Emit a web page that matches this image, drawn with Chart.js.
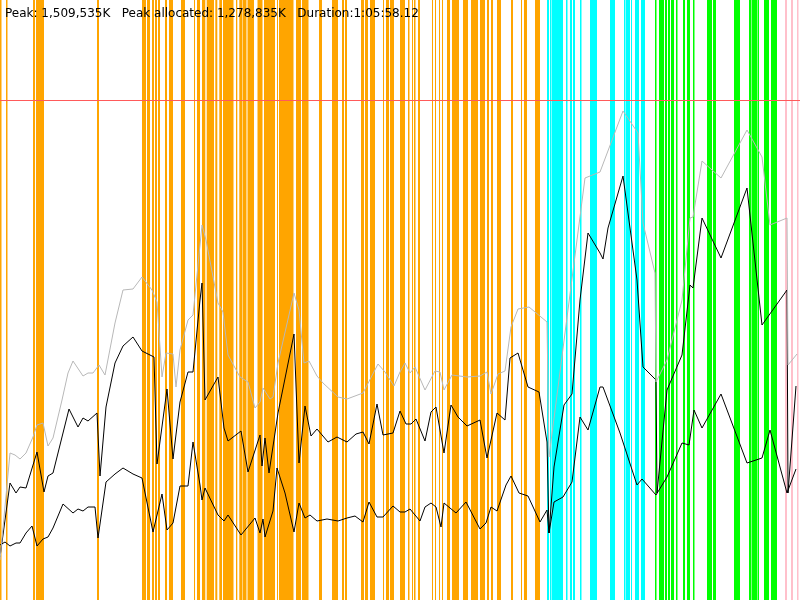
<!DOCTYPE html>
<html>
<head>
<meta charset="utf-8">
<script src="https://cdn.jsdelivr.net/npm/chart.js@4/dist/chart.umd.min.js"></script>
<style>
  html, body { margin: 0; padding: 0; background: #ffffff; }
  #wrap { width: 800px; height: 600px; }
</style>
</head>
<body>
<div id="wrap"><canvas id="c" width="800" height="600"></canvas></div>
<script>
// ---- Data (x = elapsed time units 0..800, y = memory in MB) ----
const headerLabels = ["Peak: 1,509,535K", "Peak allocated: 1,278,835K", "Duration:1:05:58.12"];
const heapLimitMB = 1500;

// committed heap (gray)
const committedX = [0,10,15,20,26,33,37,43,48,53,62,68,73,83,88,93,99,105,115,123,133,142,152,157,162,166,173,176,180,188,193,200,202,206,218,223,228,240,248,255,260,263,270,273,278,294,299,304,309,317,323,338,347,363,378,385,394,400,405,410,415,425,435,440,444,452,467,480,487,491,498,505,511,518,529,547,549,585,600,623,638,643,655,656,667,682,690,693,702,721,747,762,770,787,788,797];
const committedY = [120,441,435,423,441,489,525,531,462,486,600,681,717,672,681,681,705,675,831,930,933,969,930,894,669,741,738,639,750,840,855,1065,1125,1080,891,864,735,669,654,576,594,636,603,609,711,921,870,711,717,672,651,609,603,621,708,684,642,684,711,681,699,630,687,684,630,675,669,672,684,618,678,687,819,873,879,834,429,1266,1284,1467,1401,1131,981,654,720,900,1146,1149,1317,1266,1410,1329,1125,1146,705,738];

// used before GC (black upper)
const usedX = [0,10,16,20,26,37,44,48,53,69,78,83,88,97,100,106,115,123,133,142,154,157,167,173,180,188,193,200,202,205,218,224,228,241,248,260,262,265,269,278,294,299,305,311,317,328,337,347,356,363,369,377,383,393,400,406,411,416,425,431,436,444,451,458,467,480,487,497,505,510,518,528,539,547,549,554,564,572,580,588,600,603,608,623,637,643,656,657,667,682,690,693,702,721,747,762,787,788,796];
const usedY = [129,351,321,339,336,444,324,372,381,573,519,546,537,561,372,579,711,762,789,747,729,408,633,423,594,684,684,900,951,600,669,516,477,507,384,495,402,486,381,561,798,411,582,492,513,474,489,474,498,504,468,588,495,501,567,528,528,543,477,564,579,441,585,549,522,540,426,561,540,726,741,639,624,474,201,399,585,618,900,1101,1041,1023,1116,1272,960,699,660,321,630,735,945,936,1146,1026,1236,825,930,321,642];

// live after GC (black lower)
const liveX = [0,5,10,16,20,26,32,37,43,48,53,63,73,78,83,88,95,98,106,115,123,133,142,153,162,167,173,180,188,193,200,202,205,218,224,228,241,255,260,263,265,273,277,285,294,299,305,310,317,327,338,347,355,363,369,377,383,393,400,405,410,420,425,431,436,441,444,456,466,480,486,491,497,506,511,519,528,540,547,549,554,563,572,580,588,600,603,620,637,642,656,667,682,689,694,702,721,747,762,770,787,796];
const liveY = [165,174,162,171,171,201,222,162,183,189,216,288,261,273,267,279,279,186,354,378,396,378,366,204,318,210,231,342,342,474,345,300,336,255,237,255,195,246,201,243,189,267,396,321,204,291,246,255,237,243,237,246,252,234,294,249,249,282,264,264,273,237,279,291,279,219,291,261,294,213,231,279,267,345,372,321,312,234,270,201,294,309,354,549,510,639,639,501,345,363,315,369,471,465,570,516,618,411,426,510,321,393];

// GC event intervals [start, end] by phase
const youngGC = [[0,1.5],[6,7.5],[33,35],[36,44],[97,99],[142,146],[147,150],[152,154],[155,157],[158,160],[165,167],[169,173],[181,185],[194,195],[197,200],[202,205.3],[206.7,214],[215.3,217.3],[219.3,222],[223,233.5],[236,237.3],[239.3,242.5],[243,246.5],[247.5,254],[257.5,262.5],[264,275],[277,278],[279,293.5],[296,301],[302,308.5],[319,322],[332,338],[342,344],[345,347],[361,364],[365,368],[370,375],[383,384],[386,389],[390,394],[400,405],[408,409.5],[412,413],[414,415.5],[418,420],[432,433],[435,436],[439,440],[442,443],[447,450],[452,459],[463,468],[471,478],[480,485],[487,489],[491,493],[497,501],[511,513],[521,522],[524,527],[535,540]];
const mixedGC = [[547,549],[550,551.5],[552,563],[566,567.5],[570,572],[573,575],[580,581.5],[590,597],[610,615],[624,625.5],[626,630],[631,632],[635,639],[641,645]];
const concurrentGC = [[655,656.5],[659,664],[665,667],[668,670],[671,674],[676,677.5],[683,685],[687,690],[693,694.5],[707,712],[713,716],[734,740],[749,751],[751.5,757],[757.5,759],[764,769],[771,777]];
const fullGC = [[785,787],[791,793],[797,798.5]];

function pts(xs, ys) { return xs.map((x, i) => ({ x: x, y: ys[i] })); }

const bandSets = [
  { list: youngGC, color: '#ffa500' },
  { list: mixedGC, color: '#00ffff' },
  { list: concurrentGC, color: '#00ff00' },
  { list: fullGC, color: '#ffc0cb' }
];

const bandsPlugin = {
  id: 'bands',
  beforeDatasetsDraw(chart) {
    const { ctx, chartArea, scales } = chart;
    ctx.save();
    bandSets.forEach(set => {
      ctx.fillStyle = set.color;
      set.list.forEach(([s, e]) => {
        const x0 = scales.x.getPixelForValue(s);
        const x1 = scales.x.getPixelForValue(e);
        ctx.fillRect(x0, chartArea.top, x1 - x0, chartArea.bottom - chartArea.top);
      });
    });
    const yl = Math.round(scales.y.getPixelForValue(heapLimitMB)) + 0.5;
    ctx.strokeStyle = '#ff5a5a';
    ctx.lineWidth = 1;
    ctx.beginPath();
    ctx.moveTo(chartArea.left, yl);
    ctx.lineTo(chartArea.right, yl);
    ctx.stroke();
    ctx.restore();
  },
  afterDraw(chart) {
    const { ctx } = chart;
    ctx.save();
    ctx.fillStyle = '#000000';
    ctx.font = '12px "DejaVu Sans", sans-serif';
    ctx.textBaseline = 'alphabetic';
    ctx.fillText(headerLabels.join('   '), 5, 17);
    ctx.restore();
  }
};

new Chart(document.getElementById('c'), {
  type: 'line',
  data: {
    datasets: [
      { label: 'Committed', data: pts(committedX, committedY), borderColor: '#b8b8b8', borderWidth: 1, pointRadius: 0, tension: 0 },
      { label: 'Used', data: pts(usedX, usedY), borderColor: '#000000', borderWidth: 1, pointRadius: 0, tension: 0 },
      { label: 'Live', data: pts(liveX, liveY), borderColor: '#000000', borderWidth: 1, pointRadius: 0, tension: 0 }
    ]
  },
  options: {
    responsive: false,
    devicePixelRatio: 1,
    animation: false,
    layout: { padding: 0 },
    plugins: { legend: { display: false }, tooltip: { enabled: false }, title: { display: false } },
    scales: {
      x: { type: 'linear', min: 0, max: 800, display: false },
      y: { type: 'linear', min: 0, max: 1800, display: false }
    }
  },
  plugins: [bandsPlugin]
});
</script>
</body>
</html>
